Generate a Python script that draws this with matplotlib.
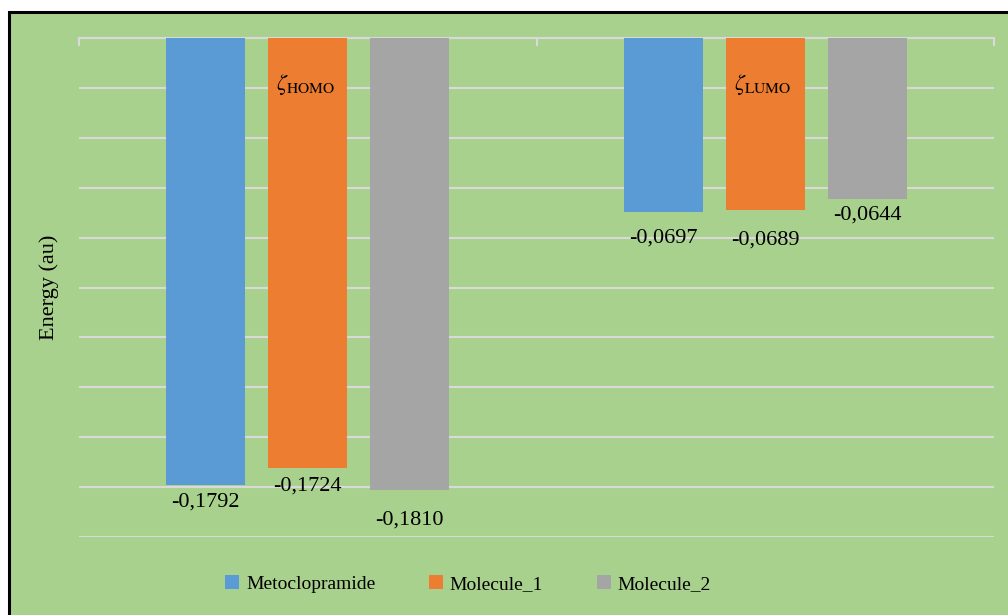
import matplotlib.pyplot as plt
from matplotlib.patches import Rectangle
import numpy as np

plt.rcParams['font.family'] = ['Liberation Serif', 'DejaVu Serif']
plt.rcParams['mathtext.fontset'] = 'stix'

groups = ['HOMO', 'LUMO']
series = ['Metoclopramide', 'Molecule_1', 'Molecule_2']
colors = ['#5B9BD5', '#ED7D31', '#A5A5A5']
values = {
    'Metoclopramide': [-0.1792, -0.0697],
    'Molecule_1': [-0.1724, -0.0689],
    'Molecule_2': [-0.1810, -0.0644],
}
labels = {
    'Metoclopramide': ['-0,1792', '-0,0697'],
    'Molecule_1': ['-0,1724', '-0,0689'],
    'Molecule_2': ['-0,1810', '-0,0644'],
}
# how far below the bar end each label sits (points), like excel placed them
label_off = {
    'Metoclopramide': [12, 19],
    'Molecule_1': [13, 22],
    'Molecule_2': [22, 12],
}
notes = [r'$\zeta_{\mathrm{HOMO}}$', r'$\zeta_{\mathrm{LUMO}}$']

bg = '#A9D18E'
grid_c = '#D9D9D9'

fig = plt.figure(figsize=(10.08, 6.15), dpi=100)
fig.patch.set_facecolor('white')
# green chart area with black frame (left/top edges visible)
fig.patches.append(Rectangle((9 / 1008, -0.05), 1.1, (615 - 12) / 615 + 0.05,
                             transform=fig.transFigure, facecolor=bg,
                             edgecolor='black', linewidth=2.2, zorder=-10))

ax = fig.add_axes([79 / 1008, (615 - 537) / 615, (994 - 79) / 1008, (537 - 38) / 615])
ax.set_facecolor('none')

x = np.arange(len(groups))
width = 0.173
step = 0.223
for i, s in enumerate(series):
    pos = x + (i - 1) * step
    ax.bar(pos, values[s], width, color=colors[i], label=s, zorder=3)
    for p, v, t, off in zip(pos, values[s], labels[s], label_off[s]):
        ax.annotate(t, (p, v), xytext=(0, -off), textcoords='offset points',
                    ha='center', va='center', fontsize=16, zorder=4)

for xi, n in zip(x, notes):
    ax.text(xi - 0.005, -0.0188, n, ha='center', va='center', fontsize=16, zorder=5)

ax.set_xlim(-0.5, 1.5)
ax.set_ylim(-0.2, 0)
ax.set_yticks(np.arange(-0.2, 0.001, 0.02))
ax.yaxis.grid(True, color=grid_c, linewidth=1.5, zorder=0)
ax.tick_params(axis='y', left=False, labelleft=False)

ax.xaxis.tick_top()
ax.set_xticks([-0.5, 0.5, 1.5])
ax.set_xticklabels([])
ax.tick_params(axis='x', direction='in', length=6, width=1.5, color=grid_c)

for sp in ['left', 'right', 'bottom']:
    ax.spines[sp].set_visible(False)
ax.spines['top'].set_color(grid_c)
ax.spines['top'].set_linewidth(1.5)

ax.set_ylabel('Energy (au)', fontsize=16)
ax.yaxis.set_label_coords(-0.022, 0.5)

fig.legend(loc='center', bbox_to_anchor=(468 / 1008, 1 - 584 / 615), ncol=3,
           frameon=False, fontsize=14, handlelength=0.72, handleheight=0.72,
           handletextpad=0.35, columnspacing=2.75)

fig.savefig('out.png', dpi=100, facecolor=fig.get_facecolor())
